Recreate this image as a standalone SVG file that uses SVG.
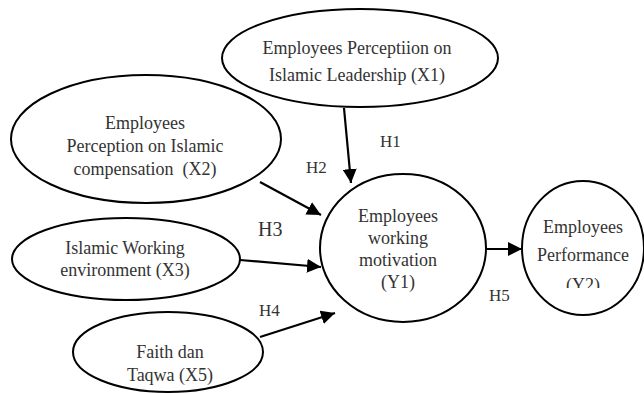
<svg xmlns="http://www.w3.org/2000/svg" width="644" height="394" viewBox="0 0 644 394">
<style>
.n{fill:#fff;stroke:#000;stroke-width:2}
.t{font-family:"Liberation Serif","Times New Roman",serif;font-size:18px;fill:#333;text-anchor:middle}
.h{font-family:"Liberation Serif","Times New Roman",serif;font-size:17px;fill:#333}
.c{stroke:#000;stroke-width:2.2;fill:none;marker-end:url(#ah)}
</style>
<defs>
<marker id="ah" markerUnits="userSpaceOnUse" markerWidth="16" markerHeight="14" refX="14" refY="7" orient="auto">
<path d="M0,0 L14,7 L0,14 Z" fill="#000"/>
</marker>
<clipPath id="cy2"><rect x="520" y="180" width="124" height="108"/></clipPath>
</defs>
<rect width="644" height="394" fill="#fff"/>
<g id="X1">
<ellipse class="n" cx="360" cy="58" rx="138" ry="49"/>
<text class="t" x="357" y="54">Employees Perceptiion on</text>
<text class="t" x="357" y="81">Islamic Leadership (X1)</text>
</g>
<g id="X2">
<ellipse class="n" cx="146" cy="139" rx="135" ry="64"/>
<text class="t" x="145" y="129">Employees</text>
<text class="t" x="145" y="152">Perception on Islamic</text>
<text class="t" x="145" y="175" xml:space="preserve">compensation  (X2)</text>
</g>
<g id="X3">
<ellipse class="n" cx="126" cy="259" rx="114" ry="41"/>
<text class="t" x="125" y="254">Islamic Working</text>
<text class="t" x="125" y="276">environment (X3)</text>
</g>
<g id="X5">
<ellipse class="n" cx="168" cy="352" rx="95" ry="40"/>
<text class="t" x="170" y="358">Faith dan</text>
<text class="t" x="170" y="381">Taqwa (X5)</text>
</g>
<g id="Y1">
<ellipse class="n" cx="403" cy="248" rx="83" ry="74"/>
<text class="t" x="398" y="222">Employees</text>
<text class="t" x="398" y="244">working</text>
<text class="t" x="398" y="266">motivation</text>
<text class="t" x="398" y="288">(Y1)</text>
</g>
<g id="Y2">
<ellipse class="n" cx="583" cy="248" rx="61" ry="67"/>
<text class="t" x="583" y="233">Employees</text>
<text class="t" x="583" y="261">Performance</text>
<text class="t" x="583" y="291" clip-path="url(#cy2)">(Y2)</text>
</g>
<g id="connectors">
<line class="c" x1="344" y1="108" x2="351" y2="183"/>
<line class="c" x1="260" y1="182" x2="321" y2="215"/>
<line class="c" x1="240" y1="260" x2="321" y2="267"/>
<line class="c" x1="260" y1="337" x2="335" y2="313"/>
<line class="c" x1="486" y1="249" x2="522" y2="249"/>
<text class="h" x="380" y="147">H1</text>
<text class="h" x="306" y="173">H2</text>
<text class="h" x="258" y="236" style="font-size:20px">H3</text>
<text class="h" x="259" y="316">H4</text>
<text class="h" x="489" y="301">H5</text>
</g>
</svg>
